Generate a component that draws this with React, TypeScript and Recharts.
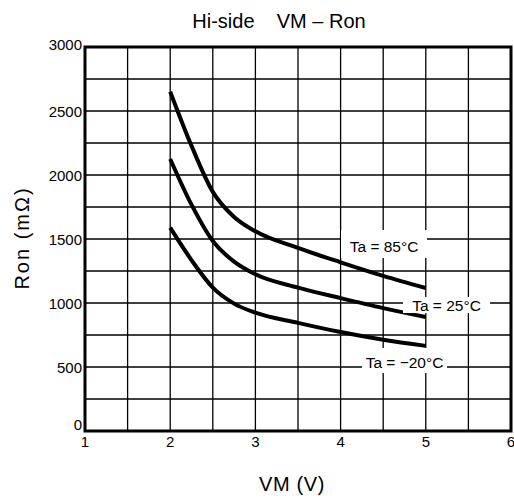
import {
  LineChart, Line, XAxis, YAxis, ReferenceLine, ReferenceArea, ReferenceDot,
} from 'recharts'

// VM (V) sample points shared by the three curves
const VM = [2, 2.25, 2.5, 2.75, 3, 3.5, 4, 4.5, 5]
// Ron (mΩ)
const RON_85 = [2651, 2228, 1868, 1672, 1560, 1430, 1318, 1212, 1117]
const RON_25 = [2125, 1768, 1484, 1323, 1224, 1120, 1038, 960, 890]
const RON_M20 = [1589, 1335, 1120, 995, 925, 845, 773, 713, 665]

const X_TICKS = [1, 2, 3, 4, 5, 6]
const Y_TICKS = [0, 500, 1000, 1500, 2000, 2500, 3000]
const X_GRID = [1.5, 2, 2.5, 3, 3.5, 4, 4.5, 5, 5.5]
const Y_GRID = [250, 500, 750, 1000, 1250, 1500, 1750, 2000, 2250, 2500, 2750]

// curve captions: box centre in data units, box size and text nudge in px
const TAGS = [
  { x: 4.51, y: 1461, text: 'Ta = 85°C', w: 86, h: 28, dy: 3 },
  { x: 5.243, y: 984, text: 'Ta = 25°C', w: 87, h: 16, dy: 0 },
  { x: 4.75, y: 551, text: 'Ta = \u221220°C', w: 85, h: 25, dy: 2.5 },
]

const data = VM.map((v, i) => ({ vm: v, t85: RON_85[i], t25: RON_25[i], tm20: RON_M20[i] }))

const FONT = '"Liberation Sans", Arial, sans-serif'

function YTick(props: any) {
  const { x, y, payload } = props
  const shift = payload.value === 0 ? -7 : payload.value === 3000 ? -3 : 0
  return (
    <text x={x} y={y + shift} textAnchor="end" dominantBaseline="central"
      fontSize={15} fontFamily={FONT} fill="#000">
      {payload.value}
    </text>
  )
}

function CurveTag({ cx, cy, text, w, h, dy }: { cx: number; cy: number; text: string; w: number; h: number; dy: number }) {
  return (
    <g>
      <rect x={cx - w / 2} y={cy - h / 2} width={w} height={h} fill="#fff" />
      <text x={cx} y={cy + dy} textAnchor="middle" dominantBaseline="central"
        fontSize={15.5} fontFamily={FONT} fill="#000">
        {text}
      </text>
    </g>
  )
}

export default function App() {
  return (
    <div style={{ position: 'absolute', left: 0, top: 0, width: 514, height: 500, background: '#fff', fontFamily: FONT }}>
      <div style={{ position: 'absolute', left: 0, width: 558, top: 9, textAlign: 'center', fontSize: 20, lineHeight: '24px', whiteSpace: 'pre' }}>
        {'Hi-side    VM \u2013 Ron'}
      </div>
      <div style={{ position: 'absolute', left: 0, width: 584, top: 472, textAlign: 'center', fontSize: 20, lineHeight: '24px', letterSpacing: 0.6 }}>
        VM (V)
      </div>
      <div style={{ position: 'absolute', left: 22, top: 238, width: 0, height: 0 }}>
        <div style={{
          position: 'absolute', left: -70, top: -12, width: 140, textAlign: 'center',
          fontSize: 20, lineHeight: '24px', letterSpacing: 2, whiteSpace: 'pre', transform: 'rotate(-90deg)',
        }}>
          {'Ron (m\u03a9)'}
        </div>
      </div>
      <LineChart width={514} height={500} data={data}
        margin={{ top: 47, right: 3, left: 25, bottom: 39 }}
        style={{ position: 'absolute', left: 0, top: 0 }}>
        <XAxis dataKey="vm" type="number" domain={[1, 6]} ticks={X_TICKS}
          axisLine={false} tickLine={false} tickSize={0} tickMargin={5} height={30}
          interval={0} allowDataOverflow
          tick={{ fontSize: 15, fontFamily: FONT, fill: '#000' }} />
        <YAxis type="number" domain={[0, 3000]} ticks={Y_TICKS} width={60}
          axisLine={false} tickLine={false} tickSize={0} tickMargin={3}
          interval={0} allowDataOverflow tick={<YTick />} />
        {X_GRID.map((v) => (
          <ReferenceLine key={'x' + v} x={v} stroke="#000" strokeWidth={1.3} />
        ))}
        {Y_GRID.map((v) => (
          <ReferenceLine key={'y' + v} y={v} stroke="#000" strokeWidth={1.3} />
        ))}
        <ReferenceArea x1={1} x2={6} y1={0} y2={3000} fill="none" fillOpacity={0}
          stroke="#000" strokeWidth={3} strokeOpacity={1} />
        <Line dataKey="t85" type="monotone" stroke="#000" strokeWidth={4} dot={false} isAnimationActive={false} />
        <Line dataKey="t25" type="monotone" stroke="#000" strokeWidth={4} dot={false} isAnimationActive={false} />
        <Line dataKey="tm20" type="monotone" stroke="#000" strokeWidth={4} dot={false} isAnimationActive={false} />
        {TAGS.map((t) => (
          <ReferenceDot key={t.text} x={t.x} y={t.y} r={0}
            shape={(p: any) => <CurveTag cx={p.cx} cy={p.cy} text={t.text} w={t.w} h={t.h} dy={t.dy} />} />
        ))}
      </LineChart>
    </div>
  )
}
